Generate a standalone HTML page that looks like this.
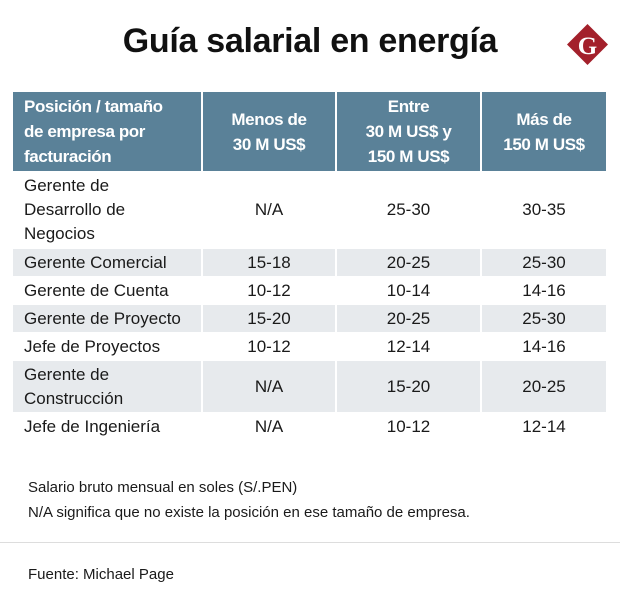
<!DOCTYPE html>
<html><head><meta charset="utf-8">
<style>
body{margin:0;width:620px;height:616px;background:#fff;position:relative;overflow:hidden;font-family:"Liberation Sans",sans-serif;color:#1a1a1a}
.a{position:absolute}
.title{left:0;width:620px;top:22px;text-align:center;font-weight:bold;font-size:34px;letter-spacing:-0.3px;color:#111}
.cell{position:absolute;display:flex;align-items:center;justify-content:center;text-align:center;font-size:17px;line-height:24px;box-sizing:border-box}
.h{background:#5a8198;color:#fff;font-weight:bold;font-size:17px;line-height:25px;letter-spacing:-0.4px}
.l{justify-content:flex-start;text-align:left;padding-left:11px}
.s{background:#e7eaed}
.note{font-size:15px;left:28px}
</style></head><body>
<div class="a title">Guía salarial en energía</div>
<svg class="a" style="left:566px;top:23px" width="43" height="43"><polygon points="21.5,1 42,21.5 21.5,42 1,21.5" fill="#a3202b"/><text x="21.5" y="31" text-anchor="middle" font-family="Liberation Serif" font-weight="bold" font-size="25" fill="#fff">G</text></svg>
<div id="t"></div>
<div class="a note" style="top:479px">Salario bruto mensual en soles (S/.PEN)</div>
<div class="a note" style="top:504px">N/A significa que no existe la posición en ese tamaño de empresa.</div>
<div class="a" style="left:0;top:542px;width:620px;height:1px;background:#ddd"></div>
<div class="a note" style="top:566px">Fuente: Michael Page</div>
<script>
const headers=["Posición / tamaño<br>de empresa por<br>facturación","Menos de<br>30 M US$","Entre<br>30 M US$ y<br>150 M US$","Más de<br>150 M US$"];
const positions=["Gerente de<br>Desarrollo de<br>Negocios","Gerente Comercial","Gerente de Cuenta","Gerente de Proyecto","Jefe de Proyectos","Gerente de<br>Construcción","Jefe de Ingeniería"];
const small=["N/A","15-18","10-12","15-20","10-12","N/A","N/A"];
const mid=["25-30","20-25","10-14","20-25","12-14","15-20","10-12"];
const large=["30-35","25-30","14-16","25-30","14-16","20-25","12-14"];
const colX=[13,203,337,482,608];
const rowY=[92,172,249,277,305,333,361,413,441];
const t=document.getElementById('t');
function cell(html,c,r,cls){
  const d=document.createElement('div');
  d.className='cell '+cls;
  d.style.left=colX[c]+'px';
  d.style.width=(colX[c+1]-colX[c]-2)+'px';
  d.style.top=rowY[r]+'px';
  d.style.height=(rowY[r+1]-rowY[r]-1)+'px';
  d.innerHTML=html;
  t.appendChild(d);
  return d;
}
headers.forEach((h,i)=>{
  const d=cell(h,i,0,'h'+(i==0?' l':''));
  
  
});
positions.forEach((p,i)=>{
  const sh=(i%2==1)?' s':'';
  const vals=[p,small[i],mid[i],large[i]];
  vals.forEach((v,c)=>{
    const d=cell(v,c,i+1,(c==0?'l':'')+sh);
    
    
  });
});
</script>
</body></html>
